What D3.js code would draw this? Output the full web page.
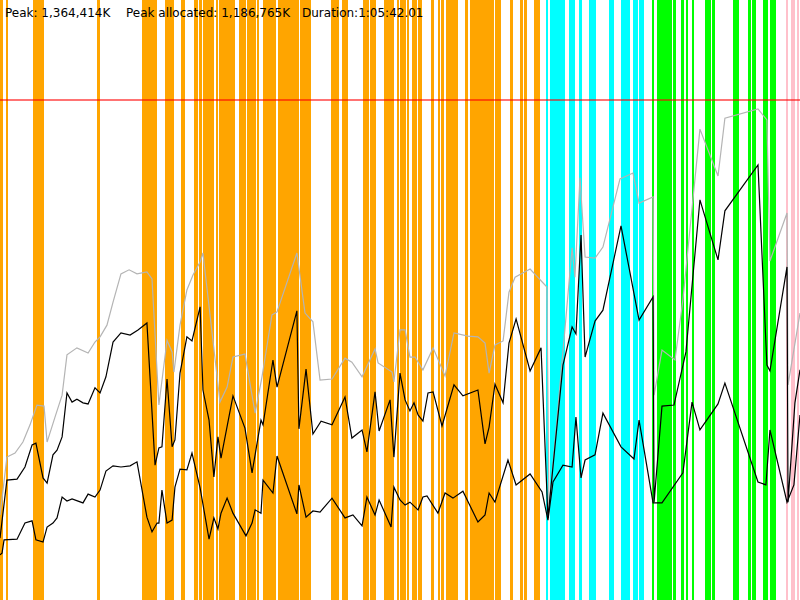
<!DOCTYPE html>
<html>
<head>
<meta charset="utf-8">
<script src="https://cdn.jsdelivr.net/npm/d3@7"></script>
<style>
  body { margin: 0; background: #fff; }
  svg { display: block; }
</style>
</head>
<body>
<script>
var width = 800;
var height = 600;

// summary numbers (K, seconds)
var peakK = 1364414;
var peakAllocK = 1186765;
var durationSec = 3942.01;

// phase spans, [first s, last s] - inclusive, sampled every ~5 s
var sampleSec = 5;
var stageA = [[0,10],[30,36],[163,172],[177,212],[478,488],[700,719],[724,729],[734,749],[754,769],[813,852],[892,907],[956,971],[981,990],[1000,1050],[1064,1069],[1079,1143],[1148,1153],[1178,1192],[1197,1207],[1217,1257],[1266,1271],[1296,1355],[1370,1468],[1478,1518],[1523,1528],[1631,1656],[1661,1665],[1685,1710],[1789,1794],[1799,1813],[1823,1848],[1892,1922],[1927,1937],[1956,1961],[1971,1996],[2005,2010],[2030,2040],[2045,2050],[2060,2074],[2124,2134],[2158,2163],[2173,2183],[2198,2212],[2217,2242],[2247,2252],[2291,2301],[2316,2429],[2439,2464],[2513,2523],[2562,2572],[2582,2592],[2631,2656]];
var stageB = [[2690,2695],[2710,2769],[2774,2779],[2804,2814],[2819,2828],[2853,2863],[2902,2932],[3001,3021],[3060,3090],[3094,3099],[3119,3139],[3149,3168]];
var stageC = [[3213,3218],[3237,3272],[3277,3292],[3296,3306],[3316,3326],[3356,3365],[3380,3385],[3410,3415],[3474,3498],[3508,3518],[3612,3637],[3686,3696],[3705,3720],[3760,3779],[3794,3819]];
var stageD = [[3873,3878],[3898,3912],[3927,3932]];

// memory samples, [time s, thousand K]
var committed = [[0,232],[15,300],[34,390],[74,401],[113,431],[148,478],[182,532],[217,529],[232,431],[271,499],[306,559],[330,669],[379,688],[434,674],[468,704],[493,718],[527,750],[557,813],[596,890],[636,901],[675,890],[724,895],[749,876],[783,532],[823,709],[848,677],[857,622],[887,750],[921,846],[951,887],[986,922],[1000,947],[1084,540],[1119,581],[1148,663],[1207,671],[1257,510],[1291,609],[1340,778],[1365,786],[1463,947],[1503,783],[1542,759],[1577,600],[1636,603],[1700,660],[1734,649],[1784,609],[1848,685],[1863,647],[1932,622],[1941,595],[1971,737],[1996,737],[2020,663],[2045,663],[2084,628],[2134,688],[2193,611],[2237,729],[2306,720],[2355,718],[2390,701],[2410,619],[2439,696],[2479,707],[2508,840],[2538,881],[2612,903],[2695,854],[2705,246],[2819,961],[2833,881],[2858,1152],[2883,936],[2932,933],[2971,963],[3055,1149],[3119,1165],[3149,1083],[3218,1100],[3223,559],[3262,682],[3326,655],[3365,819],[3449,1285],[3538,1157],[3572,1315],[3735,1340],[3779,1310],[3794,925],[3878,1056],[3883,587],[3942,783]];
var allocated = [[0,169],[34,327],[84,330],[123,363],[158,423],[177,428],[212,333],[232,319],[261,396],[281,409],[306,445],[330,565],[355,540],[379,548],[409,538],[434,535],[468,579],[493,565],[522,609],[557,704],[596,729],[641,723],[680,737],[724,756],[764,368],[783,415],[798,418],[823,603],[848,418],[862,437],[887,619],[921,718],[946,707],[986,800],[1000,573],[1030,491],[1054,336],[1074,445],[1089,387],[1148,557],[1207,469],[1242,347],[1286,491],[1296,478],[1345,655],[1365,581],[1463,789],[1473,467],[1508,630],[1542,453],[1582,488],[1636,478],[1700,554],[1734,442],[1784,464],[1808,404],[1848,568],[1868,461],[1922,546],[1941,390],[1971,619],[1996,546],[2020,516],[2040,538],[2060,505],[2084,488],[2109,565],[2134,568],[2178,475],[2237,587],[2281,557],[2355,573],[2390,426],[2410,472],[2439,589],[2479,538],[2508,701],[2543,767],[2612,625],[2666,688],[2700,224],[2774,641],[2819,745],[2838,726],[2863,996],[2883,663],[2932,761],[2971,791],[3060,1021],[3149,764],[3218,827],[3223,267],[3262,529],[3321,532],[3380,677],[3449,1092],[3538,928],[3572,1062],[3735,1187],[3779,641],[3794,625],[3878,909],[3883,267],[3917,538],[3942,628]];
var baseline = [[0,123],[10,128],[20,164],[84,166],[123,210],[158,216],[177,164],[212,158],[232,199],[261,210],[281,224],[306,281],[330,270],[355,276],[409,265],[434,289],[468,281],[493,300],[522,352],[557,366],[596,363],[641,366],[675,377],[724,226],[749,186],[774,210],[783,210],[798,300],[823,210],[848,218],[862,308],[887,357],[921,355],[946,401],[986,306],[1030,166],[1054,224],[1074,194],[1089,237],[1119,278],[1148,237],[1212,175],[1242,210],[1257,246],[1286,237],[1296,327],[1345,292],[1365,393],[1463,235],[1473,314],[1508,226],[1542,243],[1577,240],[1636,278],[1700,224],[1739,232],[1784,202],[1808,281],[1848,232],[1868,273],[1927,199],[1941,308],[1971,273],[1996,259],[2020,267],[2060,246],[2084,281],[2104,284],[2158,237],[2193,292],[2232,278],[2281,297],[2355,213],[2390,232],[2410,292],[2439,267],[2503,382],[2543,314],[2612,344],[2671,295],[2700,218],[2725,322],[2774,368],[2819,363],[2838,499],[2863,333],[2883,382],[2932,396],[2971,510],[3060,418],[3124,385],[3149,491],[3218,265],[3262,265],[3365,347],[3410,540],[3449,464],[3538,535],[3572,592],[3735,322],[3774,314],[3794,464],[3878,267],[3912,314],[3942,505]];

var stages = [
  { spans: stageA, color: "#ffa500" },
  { spans: stageB, color: "#00ffff" },
  { spans: stageC, color: "#00ff00" },
  { spans: stageD, color: "#ffc0cb" }
];

var svg = d3.select("body")
  .append("svg")
  .attr("width", width)
  .attr("height", height);

var x = d3.scaleLinear()
  .domain([0, durationSec])
  .range([0, width]);

// leave 20% head room above the peak
var y = d3.scaleLinear()
  .domain([0, peakK / 1000 * 1.2])
  .range([height, 0]);

svg.append("rect")
  .attr("width", width)
  .attr("height", height)
  .attr("fill", "#fff");

stages.forEach(function(s) {
  svg.append("g")
    .attr("shape-rendering", "crispEdges")
    .selectAll("rect")
    .data(s.spans)
    .enter().append("rect")
    .attr("x", function(d) { return x(d[0]); })
    .attr("width", function(d) { return x(d[1] + sampleSec) - x(d[0]); })
    .attr("y", 0)
    .attr("height", height)
    .attr("fill", s.color);
});

var line = d3.line()
  .x(function(d) { return x(d[0]); })
  .y(function(d) { return y(d[1]); });

svg.append("path")
  .datum(committed)
  .attr("d", line)
  .attr("fill", "none")
  .attr("stroke", "#b4b4b4")
  .attr("stroke-width", 1.2);

[allocated, baseline].forEach(function(series) {
  svg.append("path")
    .datum(series)
    .attr("d", line)
    .attr("fill", "none")
    .attr("stroke", "#000")
    .attr("stroke-width", 1.2);
});

// peak marker
svg.append("line")
  .attr("x1", 0)
  .attr("x2", width)
  .attr("y1", y(peakK / 1000))
  .attr("y2", y(peakK / 1000))
  .attr("stroke", "#ff0000")
  .attr("stroke-opacity", 0.55)
  .attr("stroke-width", 2);

function fmtDuration(sec) {
  var h = Math.floor(sec / 3600);
  var m = Math.floor((sec % 3600) / 60);
  var s = sec - h * 3600 - m * 60;
  return h + ":" + d3.format("02d")(m) + ":" + d3.format("05.2f")(s);
}

var fmt = d3.format(",");
var labels = [
  { x: 5, text: "Peak: " + fmt(peakK) + "K" },
  { x: 126, text: "Peak allocated: " + fmt(peakAllocK) + "K" },
  { x: 302, text: "Duration:" + fmtDuration(durationSec) }
];

svg.selectAll("text.head")
  .data(labels)
  .enter().append("text")
  .attr("class", "head")
  .attr("x", function(d) { return d.x; })
  .attr("y", 17)
  .style("font-family", "'DejaVu Sans', sans-serif")
  .style("font-size", "12px")
  .style("fill", "#000")
  .text(function(d) { return d.text; });
</script>
</body>
</html>
